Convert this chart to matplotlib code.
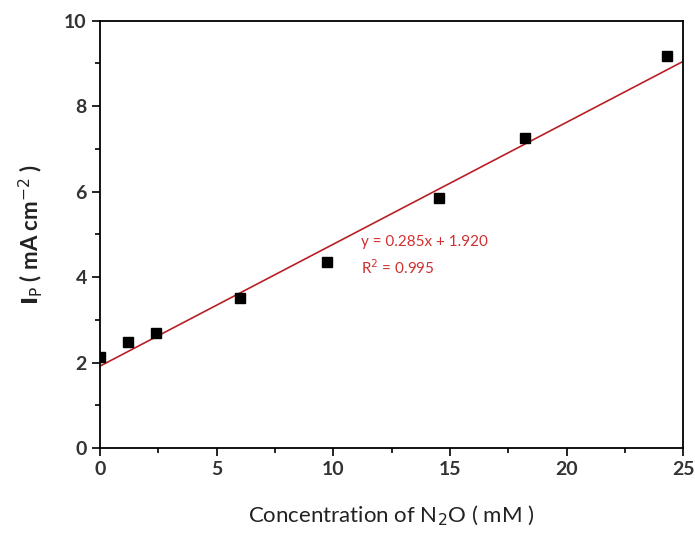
import numpy as np
import matplotlib.pyplot as plt

conc = [0.0, 1.2, 2.4, 6.0, 9.75, 14.55, 18.2, 24.3]
ip = [2.14, 2.48, 2.70, 3.52, 4.35, 5.86, 7.25, 9.18]
slope, intercept = 0.285, 1.920
fit_x = [0, 25]

plt.rcParams['font.family'] = ['Lato', 'DejaVu Sans']

fig = plt.figure(figsize=(6.95, 5.4), dpi=100)
ax = fig.add_axes([0.144, 0.17, 0.839, 0.792])

fx = np.array(fit_x)
ax.plot(fx, slope * fx + intercept, color='#b82025', lw=1.2)
ax.plot(conc, ip, 's', color='black', ms=6.5)

ax.text(11.2, 4.82, 'y = 0.285x + 1.920', color='#d03030', fontsize=11,
        va='center')
ax.text(11.2, 4.22, r'R$^2$ = 0.995', color='#d03030', fontsize=11,
        va='center')

ax.set_xlim(0, 25)
ax.set_ylim(0, 10)
ax.set_xticks(range(0, 26, 5))
ax.set_yticks(range(0, 11, 2))
ax.set_xticks(np.arange(2.5, 25, 5), minor=True)
ax.set_yticks(range(1, 10, 2), minor=True)
ax.tick_params(which='major', length=6, width=1.2, labelsize=14)
ax.tick_params(which='minor', length=3.5, width=1.2)
for lab in ax.get_xticklabels() + ax.get_yticklabels():
    lab.set_fontweight('bold')
    lab.set_color('#333333')
for s in ax.spines.values():
    s.set_linewidth(1.3)

ax.set_xlabel('Concentration of N$_2$O ( mM )', fontsize=16,
              color='#222222', labelpad=18)
ax.set_ylabel(r'$\mathbf{I}_{\mathrm{P}}$ ( mA cm$^{-2}$ )', fontsize=16,
              fontweight='bold', color='#222222', labelpad=14)

fig.savefig('out.png')
